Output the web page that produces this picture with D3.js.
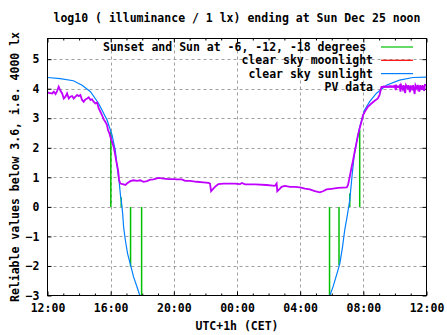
<!DOCTYPE html>
<html><head><meta charset="utf-8">
<script src="https://cdn.jsdelivr.net/npm/d3@7"></script>
<style>
body{margin:0;background:#fff;}
svg{display:block;}
text{font-family:"DejaVu Sans Mono","Liberation Mono",monospace;font-weight:bold;font-size:11.5px;fill:#000;white-space:pre;}
</style></head><body>
<svg id="c" width="447" height="335"></svg>
<script>
// ---- data ----
const title = "log10 ( illuminance / 1 lx) ending at Sun Dec 25 noon";
const yLabel = "Reliable values below 3.6, i.e. 4000 lx";
const xLabel = "UTC+1h (CET)";
const xTickHours = [0, 4, 8, 12, 16, 20, 24];
const xTickLabels = ["12:00", "16:00", "20:00", "00:00", "04:00", "08:00", "12:00"];
const yTicks = [-3, -2, -1, 0, 1, 2, 3, 4, 5];
const legendLabels = ["Sunset and Sun at -6, -12, -18 degrees ", "clear sky moonlight", "clear sky sunlight", "PV data"];

// sunset / twilight markers (hours after 12:00, value reached)
const sunEventHours = [4.01, 4.67, 5.26, 5.96, 17.86, 18.46, 19.14, 19.77];
const sunEventValues = [2.55, 0.33, -2.03, -3.1, -3.1, -1.98, 0.45, 2.6];

// clear sky moonlight (below the plotted range)
const moonData = [];

// clear sky sunlight [hour, log10 lx]
const sunData = [
  [0, 4.38], [0.8, 4.34], [1.64, 4.27], [2.19, 4.12], [2.72, 3.90], [3.24, 3.50], [3.77, 2.94],
  [4.09, 2.43], [4.29, 1.92], [4.44, 1.24], [4.55, 0.79], [4.63, 0.34], [4.67, 0.23],
  [4.76, -0.23], [4.82, -0.68], [4.93, -1.13], [5.07, -1.58], [5.29, -2.03], [5.45, -2.37],
  [5.67, -2.71], [5.81, -2.94], [5.94, -3.1], [6.0, -3.3],
  [17.75, -3.3], [17.81, -3.1], [18.08, -2.71], [18.33, -2.26], [18.51, -1.92], [18.68, -1.36],
  [18.82, -0.79], [18.97, -0.34], [19.14, 0.23], [19.28, 1.02], [19.41, 1.69], [19.56, 2.15],
  [19.77, 2.71], [20.08, 3.28], [20.40, 3.56], [20.82, 3.84], [21.46, 4.12], [22.29, 4.29],
  [23.14, 4.38], [24, 4.39]
];

// PV data [hour, log10 lx]
const pvData = [
  [0, 3.88], [0.08, 3.86], [0.30, 3.84], [0.40, 3.90], [0.51, 3.82], [0.61, 3.93], [0.71, 4.07],
  [0.82, 3.93], [0.93, 3.84], [1.03, 3.67], [1.14, 3.73], [1.24, 3.84], [1.35, 3.67], [1.45, 3.73],
  [1.56, 3.75], [1.66, 3.67], [1.77, 3.73], [1.88, 3.79], [1.98, 3.75], [2.08, 3.79], [2.19, 3.62],
  [2.29, 3.56], [2.40, 3.64], [2.51, 3.67], [2.61, 3.71], [2.72, 3.62], [2.82, 3.64], [2.92, 3.56],
  [3.03, 3.50], [3.14, 3.53], [3.24, 3.34], [3.35, 3.22], [3.45, 3.11], [3.56, 2.96], [3.66, 2.88],
  [3.77, 2.77], [3.83, 2.60], [3.92, 2.49], [3.98, 2.37], [4.09, 2.20], [4.19, 2.03], [4.29, 1.75],
  [4.36, 1.53], [4.47, 1.24], [4.53, 0.92], [4.61, 0.79], [4.82, 0.76], [4.93, 0.74], [5.03, 0.79],
  [5.24, 0.87], [5.45, 0.90], [5.67, 0.88], [5.87, 0.90], [6.08, 0.85], [6.30, 0.87], [6.51, 0.92],
  [6.71, 0.93], [7.03, 0.98], [7.35, 0.96], [7.66, 0.94], [7.98, 0.94], [8.19, 0.93], [8.51, 0.93],
  [8.72, 0.88], [9.03, 0.88], [9.45, 0.85], [9.87, 0.83], [10.19, 0.81], [10.29, 0.79], [10.36, 0.53],
  [10.50, 0.62], [10.67, 0.71], [10.82, 0.77], [11.14, 0.79], [11.51, 0.79], [11.87, 0.79],
  [12.19, 0.77], [12.30, 0.81], [12.51, 0.76], [13.14, 0.76], [13.88, 0.74], [14.40, 0.71],
  [14.51, 0.79], [14.55, 0.53], [14.72, 0.62], [14.82, 0.68], [15.03, 0.71], [15.35, 0.68],
  [15.66, 0.68], [15.98, 0.66], [16.30, 0.62], [16.61, 0.59], [16.93, 0.53], [17.24, 0.49],
  [17.45, 0.53], [17.67, 0.59], [17.98, 0.61], [18.40, 0.64], [18.95, 0.66], [19.03, 0.74],
  [19.14, 1.02], [19.24, 1.30], [19.35, 1.58], [19.45, 1.86], [19.56, 2.15], [19.66, 2.43],
  [19.77, 2.66], [19.88, 2.88], [19.98, 3.11], [20.13, 3.25], [20.29, 3.39], [20.51, 3.50],
  [20.72, 3.59], [20.92, 3.67], [21.03, 3.79], [21.14, 4.05], [21.3, 4.08], [21.5, 4.07],
  [21.7, 4.09], [21.9, 4.08], [22.0, 4.10], [22.05, 3.95], [22.1, 4.10], [22.2, 4.05], [22.3, 4.11],
  [22.35, 3.90], [22.4, 4.11], [22.5, 3.98], [22.55, 4.12], [22.65, 3.85], [22.7, 4.12], [22.8, 4.02],
  [22.85, 4.12], [22.95, 3.88], [23.0, 4.11], [23.1, 3.95], [23.15, 4.12], [23.25, 3.82], [23.3, 4.12],
  [23.4, 4.00], [23.45, 4.13], [23.55, 3.90], [23.6, 4.12], [23.7, 3.96], [23.75, 4.12], [23.85, 3.93],
  [23.9, 4.13], [24, 4.12]
];

// ---- layout ----
const W = 447, H = 335;
const L = 47.5, R = 426.5, T = 38.5, B = 295.5;
const colors = {green: "#00c000", red: "#ff0000", blue: "#0080ff", magenta: "#c000ff", grid: "#a0a0a0"};

const svg = d3.select("#c");
const x = d3.scaleLinear().domain([0, 24]).range([L, R]);
const y = d3.scaleLinear().domain([-3, 5.7]).range([B, T]);

// title
svg.append("text").attr("x", 237).attr("y", 22).attr("text-anchor", "middle").text(title);
// axis labels
svg.append("text").attr("transform", `translate(18.5,${(T + B) / 2}) rotate(-90)`)
  .attr("text-anchor", "middle").text(yLabel);
svg.append("text").attr("x", (L + R) / 2).attr("y", 330).attr("text-anchor", "middle").text(xLabel);

// grid
const grid = svg.append("g").attr("stroke", colors.grid).attr("stroke-dasharray", "3,3").attr("stroke-width", 1);
yTicks.filter(v => v > -3).forEach(v => {
  grid.append("line").attr("x1", L).attr("x2", R).attr("y1", Math.round(y(v)) + 0.5).attr("y2", Math.round(y(v)) + 0.5);
});
xTickHours.filter(h => h > 0 && h < 24).forEach(h => {
  grid.append("line").attr("y1", T).attr("y2", B).attr("x1", Math.round(x(h)) + 0.5).attr("x2", Math.round(x(h)) + 0.5);
});

// axes with inward ticks
const minorHours = d3.range(0, 25, 1).filter(h => !xTickHours.includes(h));
function styleAxis(g) { g.select(".domain").remove(); g.selectAll("line").attr("stroke", "#000"); g.selectAll("text").attr("font-family", null).attr("font-size", null); }

svg.append("g").attr("transform", `translate(0,${B})`)
  .call(d3.axisBottom(x).tickValues(xTickHours).tickSize(-4).tickPadding(8).tickFormat((d, i) => xTickLabels[i]))
  .call(styleAxis);
svg.append("g").attr("transform", `translate(0,${B})`)
  .call(d3.axisBottom(x).tickValues(minorHours).tickSize(-2).tickFormat("")).call(styleAxis);
svg.append("g").attr("transform", `translate(0,${T})`)
  .call(d3.axisTop(x).tickValues(xTickHours).tickSize(-4).tickFormat("")).call(styleAxis);
svg.append("g").attr("transform", `translate(0,${T})`)
  .call(d3.axisTop(x).tickValues(minorHours).tickSize(-2).tickFormat("")).call(styleAxis);
svg.append("g").attr("transform", `translate(${L},0)`)
  .call(d3.axisLeft(y).tickValues(yTicks).tickSize(-4).tickPadding(8).tickFormat(d3.format("d")))
  .call(styleAxis);
svg.append("g").attr("transform", `translate(${R},0)`)
  .call(d3.axisRight(y).tickValues(yTicks).tickSize(-4).tickFormat("")).call(styleAxis);
svg.selectAll("text").style("font-family", null);

// clip
svg.append("clipPath").attr("id", "plotclip").append("rect")
  .attr("x", L).attr("y", T).attr("width", R - L).attr("height", B - T);
const plot = svg.append("g").attr("clip-path", "url(#plotclip)");

// green sun markers
plot.selectAll(".sun").data(sunEventHours).enter().append("line")
  .attr("x1", d => x(d)).attr("x2", d => x(d))
  .attr("y1", y(0)).attr("y2", (d, i) => y(sunEventValues[i]))
  .attr("stroke", colors.green).attr("stroke-width", 1.5);

const line = d3.line().x(d => x(d[0])).y(d => y(d[1]));
plot.append("path").datum(moonData).attr("d", moonData.length ? line(moonData) : null)
  .attr("fill", "none").attr("stroke", colors.red);
plot.append("path").datum(sunData).attr("d", line).attr("fill", "none")
  .attr("stroke", colors.blue).attr("stroke-width", 1.2);
plot.append("path").datum(pvData).attr("d", line).attr("fill", "none")
  .attr("stroke", colors.magenta).attr("stroke-width", 1.8).attr("stroke-linejoin", "miter");

// border
svg.append("rect").attr("x", L).attr("y", T).attr("width", R - L).attr("height", B - T)
  .attr("fill", "none").attr("stroke", "#000").attr("stroke-width", 1);

// legend
const legColors = [colors.green, colors.red, colors.blue, colors.magenta];
legendLabels.forEach((lab, i) => {
  const by = 51 + i * 13.3;
  svg.append("text").attr("x", 373).attr("y", by).attr("text-anchor", "end").text(lab);
  svg.append("line").attr("x1", 381).attr("x2", 413).attr("y1", by - 4).attr("y2", by - 4)
    .attr("stroke", legColors[i]).attr("stroke-width", i === 3 ? 1.8 : 1.2);
});
</script>
</body></html>
